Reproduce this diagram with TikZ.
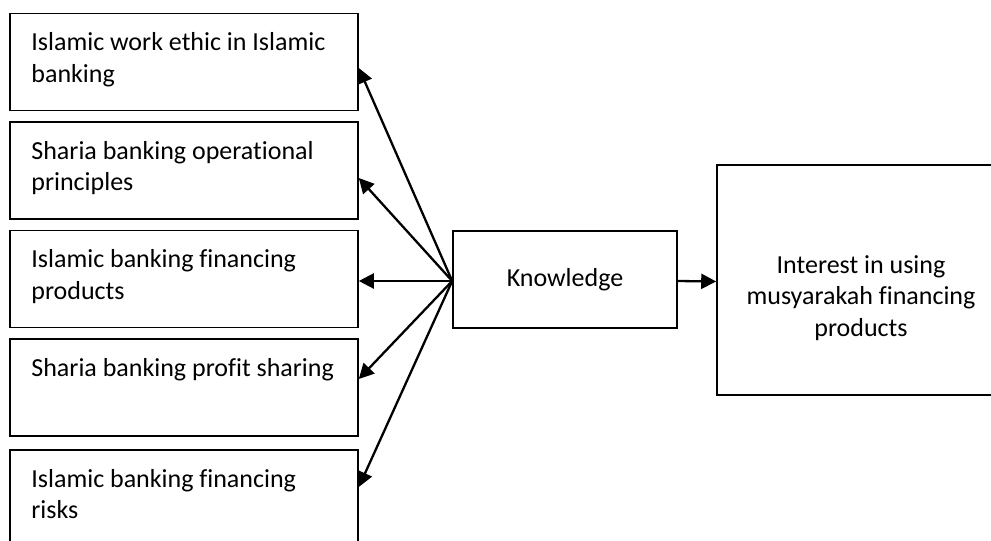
\documentclass[tikz,border=0pt]{standalone}
\usepackage{fontspec}
\setmainfont{Carlito}[Ligatures=NoCommon]
\usepackage{tikz}
\usetikzlibrary{arrows.meta}
\tikzset{
  itembox/.style={draw, line width=1.6pt, minimum width=348pt, minimum height=97pt, inner sep=0pt},
  itemtext/.style={anchor=base west, text width=311pt, align=flush left, inner sep=0pt},
  link/.style={line width=2.3pt, -{Triangle[length=15pt, width=15pt]}}
}

\begin{document}
\begin{tikzpicture}[x=1pt, y=-1pt, font=\fontsize{26}{31.5}\selectfont]
  \useasboundingbox (0,0) rectangle (991,541);
  % factor boxes on the left
  \foreach \n/\yc/\lab in {1/62/{Islamic work ethic in Islamic banking},
                           2/170.5/{Sharia banking operational principles},
                           3/279/{Islamic banking financing products},
                           4/387.5/{Sharia banking profit sharing},
                           5/498.5/{Islamic banking financing risks}} {
    \node[itembox] (w\n) at (184,\yc) {};
    \node[itemtext] (t\n) at ([xshift=22pt, yshift=-38pt]w\n.north west) {\lab};
  }
  \node[draw, line width=1.6pt, minimum width=224pt, minimum height=97pt] (know) at (565,279.5) {Knowledge};
  \node[draw, line width=1.6pt, minimum width=288pt, minimum height=230pt] (interest) at (861,280) {};
  \node[align=center, inner sep=0pt] (it) at (861,298) {Interest in using\\musyarakah financing\\products};
  % links
  \foreach \n/\dy in {1/-6, 2/-7.5, 3/-2, 4/8.5, 5/11.5}
    \draw[link] ([yshift=-1.5pt]know.west) -- ([yshift=\dy pt]w\n.east);
  \draw[link] ([yshift=-1.5pt]know.east) -- ([yshift=-1.5pt]interest.west);
\end{tikzpicture}
\end{document}
